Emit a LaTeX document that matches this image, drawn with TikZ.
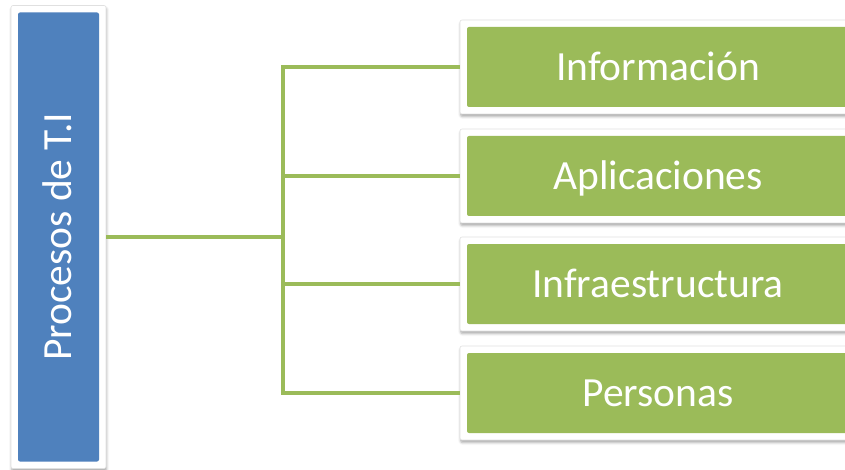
\documentclass[tikz,border=0pt]{standalone}
\usepackage{fontspec}
\setmainfont{Carlito}
\usetikzlibrary{shadows.blur}
\definecolor{procblue}{HTML}{4F81BD}
\definecolor{itemgreen}{HTML}{9BBB59}
\tikzset{
  framed/.style={
    fill=white, draw=black!12, line width=.6pt, rounded corners=2pt,
    blur shadow={shadow xshift=.6pt, shadow yshift=-2.5pt,
                 shadow blur radius=2.5pt, shadow opacity=35},
    inner sep=0pt, text=white, font=\fontsize{41.5}{49}\selectfont,
    text height=26.7pt, text depth=0pt
  },
  inset/.style={
    path picture={\fill[#1]
      ([shift={(7pt,-7pt)}]path picture bounding box.north west) rectangle
      ([shift={(-7pt,7pt)}]path picture bounding box.south east);}
  },
  procbox/.style={framed, inset=procblue, minimum width=95pt, minimum height=463pt},
  itembox/.style={framed, inset=itemgreen, minimum width=396pt, minimum height=94pt},
  link/.style={draw=itemgreen, line width=4pt}
}
\begin{document}
\begin{tikzpicture}[x=1pt, y=-1pt]
  \useasboundingbox (0,0) rectangle (845,470);

  % root and branch boxes
  \node[procbox] (proc) at (58.5,237) {};
  \node[text=white, font=\fontsize{41.5}{49}\selectfont, rotate=90,
        inner sep=0pt, text height=26.7pt, text depth=0pt] (proclabel)
        at (proc.center) {Procesos de T.I};

  \node[itembox] (info)  at (658,67)  {Información};
  \node[itembox] (apl)   at (658,176) {Aplicaciones};
  \node[itembox] (infra) at (658,284) {Infraestructura};
  \node[itembox] (pers)  at (658,393) {Personas};

  % tree connectors
  \coordinate (fork) at (proc.east -| 283,0);
  \draw[link] (proc.east) -- (fork);
  \draw[link] (fork) |- (info.west);
  \draw[link] (fork) |- (apl.west);
  \draw[link] (fork) |- (infra.west);
  \draw[link] (fork) |- (pers.west);
\end{tikzpicture}
\end{document}
